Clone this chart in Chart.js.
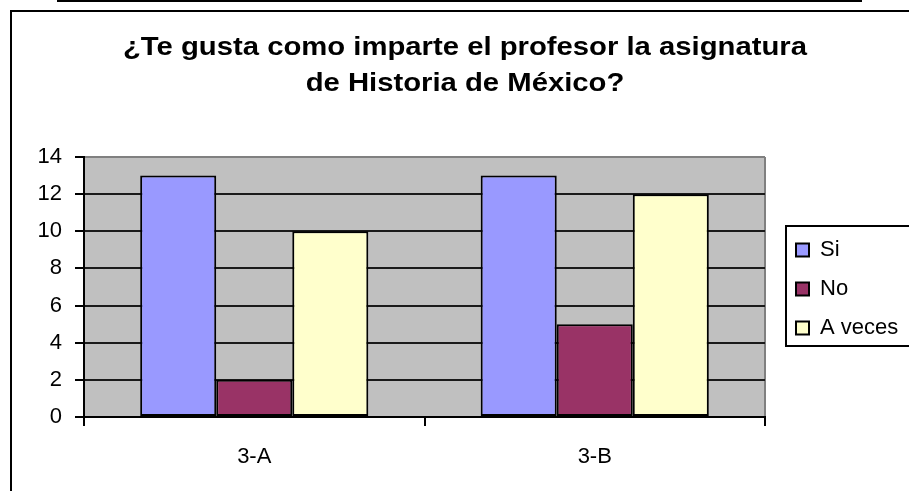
<!DOCTYPE html>
<html>
<head>
<meta charset="utf-8">
<script src="https://cdn.jsdelivr.net/npm/chart.js@4.4.1/dist/chart.umd.min.js"></script>
<style>
  html, body { margin: 0; padding: 0; background: #fff; }
  canvas { display: block; }
</style>
</head>
<body>
<canvas id="grafica" width="909" height="491"></canvas>
<script>
// datos
const grupos = ['3-A', '3-B'];
const si = [13, 13];
const no = [2, 5];
const aVeces = [10, 12];
const titulo = ['¿Te gusta como imparte el profesor la asignatura', 'de Historia de México?'];

const fuente = '"Liberation Sans", Arial, sans-serif';
Chart.defaults.font.family = fuente;
Chart.defaults.font.size = 22;
Chart.defaults.color = '#000';

// fondo, marco, titulo estirado y borde de la leyenda
const marco = {
  id: 'marco',
  afterLayout(chart) {
    const lg = chart.legend;
    lg.left += 14; lg.right += 14;
    lg.top -= 35; lg.bottom -= 35;
  },
  beforeDraw(chart) {
    const ctx = chart.ctx;
    const a = chart.chartArea;
    ctx.save();
    ctx.fillStyle = '#fff';
    ctx.fillRect(0, 0, chart.width, chart.height);
    ctx.fillStyle = '#000';
    ctx.fillRect(57, 0, 805, 2);
    ctx.lineWidth = 2;
    ctx.strokeStyle = '#000';
    ctx.strokeRect(11, 11, 1000, 1000);

    ctx.fillStyle = '#C0C0C0';
    ctx.fillRect(a.left, a.top, a.right - a.left, a.bottom - a.top);
    ctx.strokeStyle = '#808080';
    ctx.beginPath();
    ctx.moveTo(a.right, a.top);
    ctx.lineTo(a.right, a.bottom);
    ctx.stroke();

    ctx.font = 'bold 25px ' + fuente;
    ctx.fillStyle = '#000';
    ctx.textAlign = 'center';
    ctx.textBaseline = 'alphabetic';
    const sx = 684 / ctx.measureText(titulo[0]).width;
    titulo.forEach((t, i) => {
      ctx.save();
      ctx.translate(465, 55 + i * 36);
      ctx.scale(sx, 1);
      ctx.fillText(t, 0, 0);
      ctx.restore();
    });

    ctx.strokeStyle = '#000';
    ctx.lineWidth = 2;
    ctx.strokeRect(786, 226, 300, 120);
    ctx.restore();
  }
};

new Chart(document.getElementById('grafica').getContext('2d'), {
  type: 'bar',
  data: {
    labels: grupos,
    datasets: [
      { label: 'Si', data: si, backgroundColor: '#9999FF' },
      { label: 'No', data: no, backgroundColor: '#993366' },
      { label: 'A veces', data: aVeces, backgroundColor: '#FFFFCC' }
    ]
  },
  options: {
    responsive: false,
    animation: false,
    layout: { padding: { top: 157, left: 0, right: 24, bottom: 0 } },
    datasets: {
      bar: {
        borderColor: '#000',
        borderWidth: 2,
        borderSkipped: false,
        categoryPercentage: 0.67,
        barPercentage: 1
      }
    },
    plugins: {
      title: { display: false },
      tooltip: { enabled: false },
      legend: {
        position: 'right',
        maxWidth: 120,
        labels: {
          boxWidth: 13,
          boxHeight: 13,
          padding: 17,
          color: '#000',
          font: { size: 22 }
        }
      }
    },
    scales: {
      x: {
        grid: {
          offset: true,
          drawOnChartArea: false,
          color: '#000',
          lineWidth: 2,
          tickLength: 9
        },
        border: { display: true, color: '#000', width: 2 },
        ticks: { padding: 18, font: { size: 22 } },
        afterFit(scale) { scale.height = 74; }
      },
      y: {
        min: 0,
        max: 14,
        ticks: { stepSize: 2, padding: 13, font: { size: 22 } },
        grid: {
          color: c => (c.tick && c.tick.value === 14 ? '#808080' : '#1a1a1a'),
          tickColor: '#000',
          lineWidth: 2,
          tickLength: 9
        },
        border: { display: true, color: '#000', width: 2 },
        afterFit(scale) { scale.width = 84; }
      }
    }
  },
  plugins: [marco]
});
</script>
</body>
</html>
